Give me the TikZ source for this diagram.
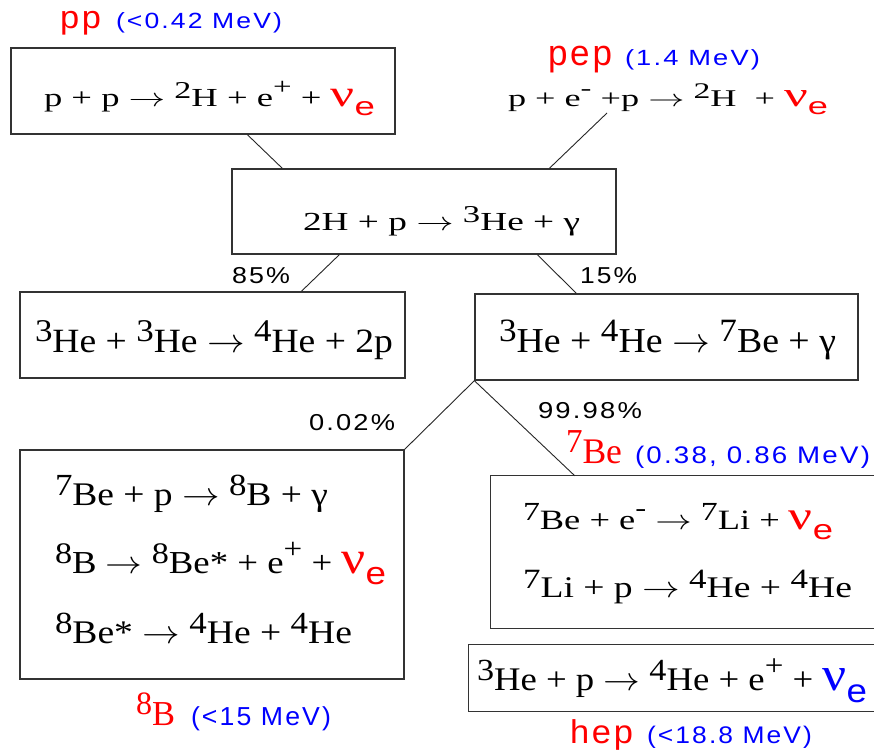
\RequirePackage{fix-cm}
\documentclass[tikz,border=0pt]{standalone}
\usepackage{fontspec}
\usepackage{graphicx}
\setmainfont{Liberation Serif}
\newfontfamily\labfont[LetterSpace=8]{Liberation Sans}
\newfontfamily\sansplain{Liberation Sans}
\usetikzlibrary{calc}
\newcommand\sps[1]{\raisebox{0.3em}{\scalebox{0.93}{#1}}}
\newcommand\spp[1]{\raisebox{0.45em}{\scalebox{0.9}{#1}}}
\newcommand\nue[1]{{\color{#1}\scalebox{1.45}{ν}\raisebox{-0.37em}{\sansplain e}}}
\newcommand\eqn[3]{\resizebox{#2pt}{\height}{\fontsize{#1pt}{#1pt}\selectfont #3}}
\newcommand\lab[4]{\resizebox{#2pt}{\height}{\fontsize{#1pt}{#1pt}\selectfont\color{#3}\labfont #4}}
\newcommand\slab[4]{\resizebox{#2pt}{\height}{\fontsize{#1pt}{#1pt}\selectfont\color{#3}#4}}
\tikzset{
  box/.style={draw=black!80, line width=1.3pt, rectangle, inner sep=0pt},
  openbox/.style={rectangle, inner sep=0pt},
  conn/.style={draw=black!85, line width=0.9pt},
  txt/.style={anchor=base west, inner sep=0pt, outer sep=0pt},
}
\begin{document}
\begin{tikzpicture}[x=1pt,y=-1pt]
\fill[white] (0,0) rectangle (874,755);
\useasboundingbox (0,0) rectangle (874,755);

% boxes
\node[box, minimum width=384pt, minimum height=86pt] (ppbox) at (203,91) {};
\node[box, minimum width=384pt, minimum height=85pt] (hbox) at (424,211.5) {};
\node[box, minimum width=385pt, minimum height=86pt] (he33) at (212.5,335) {};
\node[box, minimum width=383pt, minimum height=86pt] (he34) at (666.5,337) {};
\node[box, minimum width=384pt, minimum height=229pt] (b8box) at (212,564.5) {};
\node[openbox, minimum width=385pt, minimum height=152pt] (be7box) at (683.5,552) {};
\node[openbox, minimum width=407pt, minimum height=66pt] (hepbox) at (672.5,678) {};
\draw[draw=black!80, line width=1.3pt] (be7box.north east) -- (be7box.north west) -- (be7box.south west) -- (be7box.south east);
\draw[draw=black!80, line width=1.3pt] (hepbox.north east) -- (hepbox.north west) -- (hepbox.south west) -- (hepbox.south east);

% equations
\node[txt] (ppeq) at (44,106) {\eqn{26}{331}{p + p $\rightarrow$ \sps{2}H + e\spp{+} + \nue{red}}};
\node[txt] (pepeq) at (508,106) {\eqn{24}{320}{p + e\spp{-} +p $\rightarrow$ \sps{2}H \ + \nue{red}}};
\node[txt] (heq) at (303,230) {\eqn{26}{277}{2H + p $\rightarrow$ \sps{3}He + γ}};
\node[txt] (he33eq) at (35,352) {\eqn{34}{358}{\sps{3}He + \sps{3}He $\rightarrow$ \sps{4}He + 2p}};
\node[txt] (he34eq) at (499,352) {\eqn{35}{337}{\sps{3}He + \sps{4}He $\rightarrow$ \sps{7}Be + γ}};
\node[txt] (b8a) at (55,505) {\eqn{33}{273}{\sps{7}Be + p $\rightarrow$ \sps{8}B + γ}};
\node[txt] (b8b) at (55,573) {\eqn{32}{331}{\sps{8}B $\rightarrow$ \sps{8}Be* + e\spp{+} + \nue{red}}};
\node[txt] (b8c) at (55,643) {\eqn{33}{297}{\sps{8}Be* $\rightarrow$ \sps{4}He + \sps{4}He}};
\node[txt] (be7a) at (523,529) {\eqn{28}{310}{\sps{7}Be + e\spp{-} $\rightarrow$ \sps{7}Li + \nue{red}}};
\node[txt] (be7b) at (523,597) {\eqn{30}{329}{\sps{7}Li + p $\rightarrow$ \sps{4}He + \sps{4}He}};
\node[txt] (hepeq) at (477,690) {\eqn{33}{390}{\sps{3}He + p $\rightarrow$ \sps{4}He + e\spp{+} + \nue{blue}}};

% labels
\node[txt] (pplab) at (60,28) {\lab{32}{41}{red}{pp}};
\node[txt] (ppen) at (116,28) {\lab{22}{166}{blue}{(<0.42 MeV)}};
\node[txt] (peplab) at (548,65) {\lab{36}{64}{red}{pep}};
\node[txt] (pepen) at (625,65) {\lab{22}{135}{blue}{(1.4 MeV)}};
\node[txt] (p85) at (232,283) {\lab{23}{58}{black}{85\%}};
\node[txt] (p15) at (580,283) {\lab{23}{57}{black}{15\%}};
\node[txt] (p002) at (309,430) {\lab{23}{86}{black}{0.02\%}};
\node[txt] (p9998) at (538,418) {\lab{23}{104}{black}{99.98\%}};
\node[txt] (be7lab) at (566,463) {\slab{36}{56}{red}{\sps{7}Be}};
\node[txt] (be7en) at (635,463) {\lab{24}{235}{blue}{(0.38, 0.86 MeV)}};
\node[txt] (b8lab) at (136,725) {\slab{35}{39}{red}{\sps{8}B}};
\node[txt] (b8en) at (191,725) {\lab{26}{140}{blue}{(<15 MeV)}};
\node[txt] (heplab) at (570,743) {\lab{33}{63}{red}{hep}};
\node[txt] (hepen) at (647,743) {\lab{24}{165}{blue}{(<18.8 MeV)}};

% connectors
\draw[conn] ($(ppbox.south west)+(237,0)$) -- ($(hbox.north west)+(51,0)$);
\draw[conn] ($(pepeq.base west)+(99,7)$) -- ($(hbox.north west)+(318,0)$);
\draw[conn] ($(hbox.south west)+(108,0)$) -- ($(he33.north west)+(282,0)$);
\draw[conn] ($(hbox.south west)+(306,0)$) -- ($(he34.north west)+(102,0)$);
\draw[conn] (he34.south west) -- (b8box.north east);
\draw[conn] (he34.south west) -- ($(be7box.north west)+(84,0)$);
\end{tikzpicture}
\end{document}
